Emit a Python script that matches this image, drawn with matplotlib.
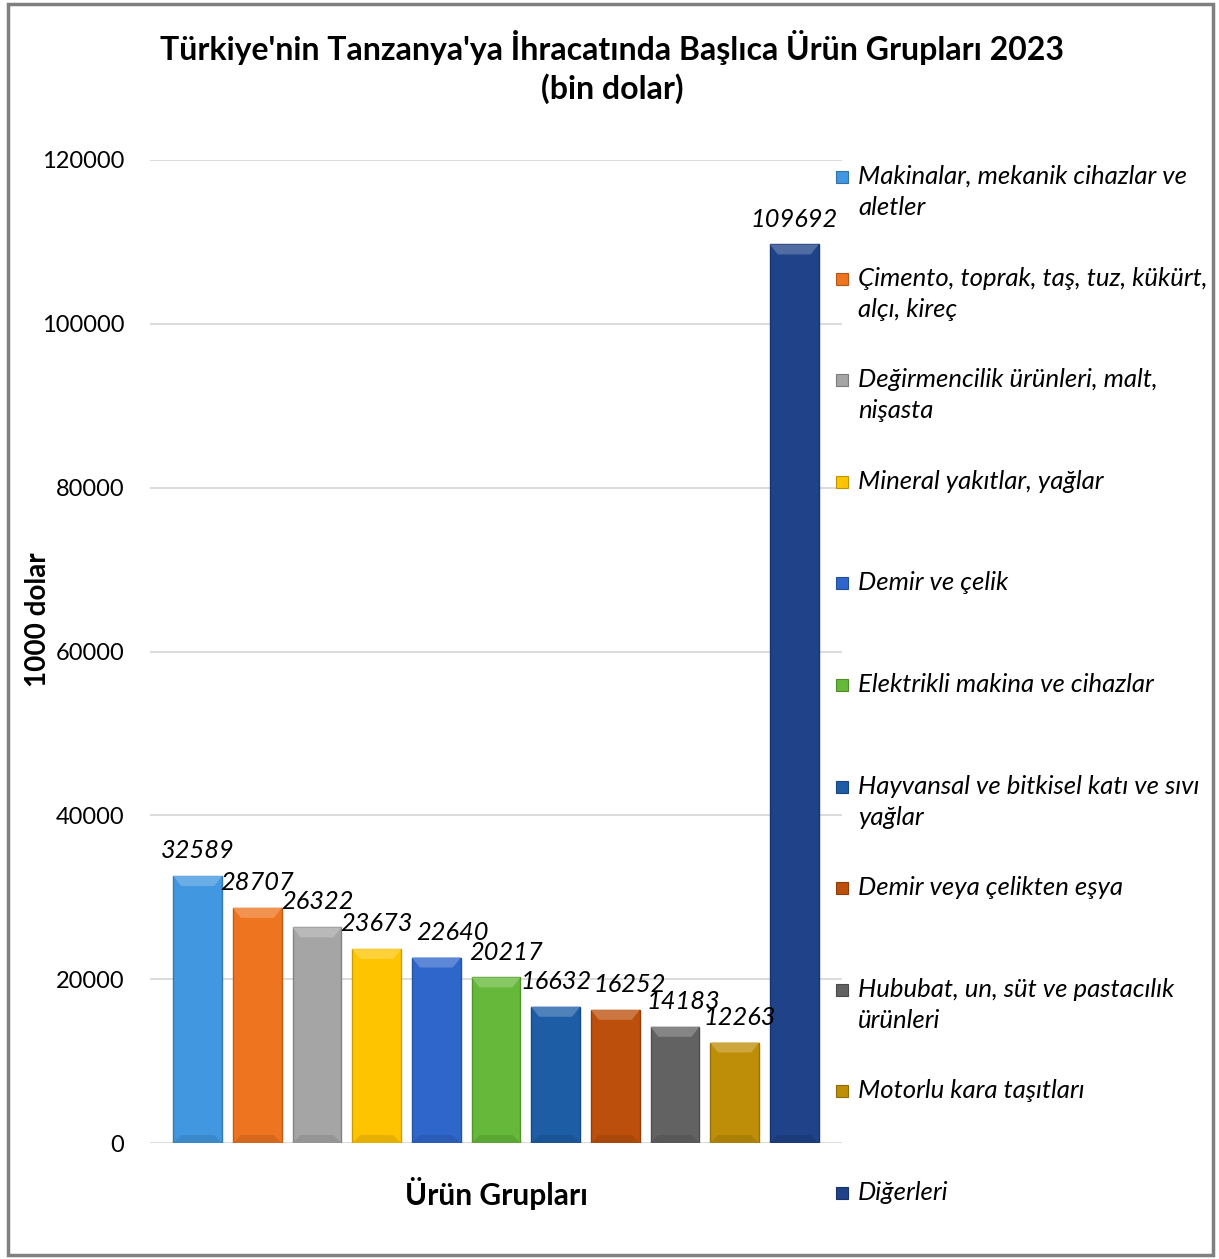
import matplotlib
matplotlib.use('Agg')
import matplotlib.pyplot as plt
import matplotlib.colors as mcolors
from matplotlib.patches import Polygon, Rectangle

# Data
CATEGORIES = [
    'Makinalar, mekanik cihazlar ve\naletler',
    'Çimento, toprak, taş, tuz, kükürt,\nalçı, kireç',
    'Değirmencilik ürünleri, malt,\nnişasta',
    'Mineral yakıtlar, yağlar',
    'Demir ve çelik',
    'Elektrikli makina ve cihazlar',
    'Hayvansal ve bitkisel katı ve sıvı\nyağlar',
    'Demir veya çelikten eşya',
    'Hububat, un, süt ve pastacılık\nürünleri',
    'Motorlu kara taşıtları',
    'Diğerleri',
]
VALUES = [32589, 28707, 26322, 23673, 22640, 20217, 16632, 16252, 14183, 12263, 109692]
Y_TICKS = [0, 20000, 40000, 60000, 80000, 100000, 120000]

COLORS = ['#4197E0', '#EE7420', '#A5A5A5', '#FFC400', '#2F66CC', '#66B83A',
          '#1D5DA6', '#BD4F0C', '#626262', '#BE8E08', '#1F4288']
LABEL_DX = [0, 0, 0, 0, 16, 10, 0, 14, 8, 5, 0]   # px shift of value labels

TITLE = "Türkiye'nin Tanzanya'ya İhracatında Başlıca Ürün Grupları 2023\n(bin dolar)"
FONT = ['Lato', 'DejaVu Sans']

plt.rcParams['font.family'] = FONT


def lighten(color, amount):
    c = mcolors.to_rgb(color)
    return tuple(ci + (1 - ci) * amount for ci in c)


def darken(color, amount):
    c = mcolors.to_rgb(color)
    return tuple(ci * amount for ci in c)


fig = plt.figure(figsize=(12.19, 12.59), dpi=100)
ax = fig.add_axes([150 / 1219, 1 - 1143 / 1259, 692 / 1219, 983 / 1259])

x = list(range(len(VALUES)))
width = 0.82
bars = ax.bar(x, VALUES, width=width, color=COLORS, zorder=3,
              edgecolor=[darken(c, 0.8) for c in COLORS], linewidth=1.0)

ax.set_xlim(-0.8, 10.8)
ax.set_ylim(0, 120000)

# bevel on top and bottom of each bar
bevel_h = 120000 * 10 / 983
inset = 11.6 * 8 / 692
for b, c in zip(bars, COLORS):
    x0, x1 = b.get_x(), b.get_x() + b.get_width()
    top = b.get_height()
    ax.add_patch(Polygon([(x0, top), (x1, top), (x1 - inset, top - bevel_h),
                          (x0 + inset, top - bevel_h)], closed=True,
                         facecolor=lighten(c, 0.22), edgecolor='none', zorder=4))
    ax.add_patch(Polygon([(x0, 0), (x1, 0), (x1 - inset, bevel_h * 0.8),
                          (x0 + inset, bevel_h * 0.8)], closed=True,
                         facecolor=darken(c, 0.9), edgecolor='none', zorder=4))

# value labels
for b, v, dx in zip(bars, VALUES, LABEL_DX):
    ax.annotate(str(v), (b.get_x() + b.get_width() / 2, v), xytext=(dx * 0.72, 10),
                textcoords='offset points', ha='center', va='bottom',
                fontsize=18.3, fontstyle='italic', zorder=5)

ax.set_yticks(Y_TICKS)
ax.set_yticklabels([str(t) for t in Y_TICKS])
ax.set_xticks([])
ax.grid(axis='y', color='#D9D9D9', linewidth=1.3, zorder=0)
ax.set_axisbelow(True)
for s in ax.spines.values():
    s.set_visible(False)
ax.tick_params(axis='y', length=0, labelsize=17, pad=18.5)

fig.text(38 / 1219, 1 - 620 / 1259, '1000 dolar', rotation=90, ha='center', va='center',
         fontsize=20, fontweight='bold')
fig.text(496 / 1219, 1 - 1193 / 1259, 'Ürün Grupları', ha='center', va='center',
         fontsize=21.5, fontweight='bold')

fig.text(612 / 1219, 1 - 67 / 1259, TITLE, ha='center', va='center',
         fontsize=23, fontweight='bold', linespacing=1.35)

# legend drawn by hand on the right
leg_y0 = 177
leg_step = 101.6
for i, (lab, c) in enumerate(zip(CATEGORIES, COLORS)):
    yc = 1 - (leg_y0 + i * leg_step) / 1259
    fig.patches.append(Rectangle((836 / 1219, yc - 6 / 1259), 12 / 1219, 12 / 1259,
                                 transform=fig.transFigure, facecolor=c,
                                 edgecolor=darken(c, 0.75), linewidth=0.8))
    fig.text(858 / 1219, yc + 12 / 1259, lab, ha='left', va='top',
             fontsize=18.5, fontstyle='italic', linespacing=1.42)

# outer frame
fig.patches.append(Rectangle((8 / 1219, 4 / 1259), 1205 / 1219, 1251 / 1259,
                             transform=fig.transFigure, facecolor='none',
                             edgecolor='#808080', linewidth=2.5))

fig.savefig('out.png', dpi=100)
